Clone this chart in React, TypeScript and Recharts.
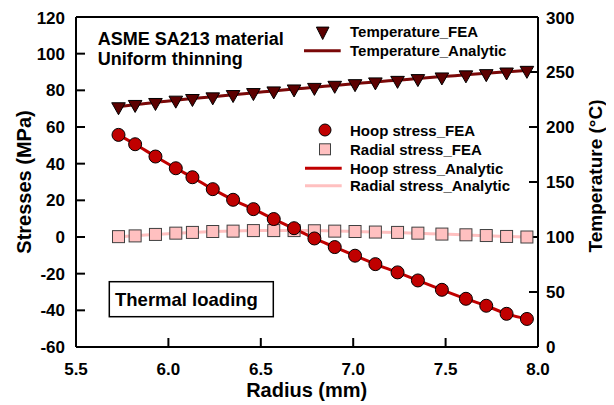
import { ComposedChart, Line, XAxis, YAxis, ReferenceLine } from "recharts";

const radius = [5.73, 5.82, 5.93, 6.04, 6.13, 6.24, 6.35, 6.46, 6.57, 6.68, 6.79, 6.9, 7.01, 7.12, 7.24, 7.35, 7.48, 7.61, 7.72, 7.83, 7.94];
const hoopFEA = [55.7, 50.6, 43.9, 37.5, 32.6, 26.1, 20.3, 15.2, 9.8, 4.8, -0.8, -5.5, -10.2, -14.8, -19.3, -23.7, -28.8, -33.7, -37.5, -41.9, -44.7];
const radialFEA = [0.2, 0.6, 1.4, 2.1, 2.5, 3.0, 3.2, 3.5, 3.5, 3.5, 3.4, 3.2, 3.0, 2.7, 2.5, 2.1, 1.6, 1.2, 0.8, 0.3, 0.0];
const temperatureFEA = [218.4, 220.5, 222.3, 224.4, 225.9, 227.4, 229.5, 231.3, 232.8, 234.6, 236.0, 237.9, 239.4, 241.0, 242.4, 244.0, 245.5, 247.4, 248.5, 250.0, 251.5];
const hoopAnalytic = [55.7, 50.6, 43.9, 37.5, 32.6, 26.1, 20.3, 15.2, 9.8, 4.6, -0.8, -5.5, -10.2, -14.8, -19.3, -23.7, -28.8, -33.7, -37.5, -41.9, -44.7];
const radialAnalytic = [0.2, 0.7, 1.4, 2.0, 2.5, 3.0, 3.3, 3.5, 3.6, 3.6, 3.5, 3.3, 3.0, 2.7, 2.4, 2.0, 1.6, 1.1, 0.7, 0.3, 0.0];
const temperatureAnalytic = [218.4, 220.4, 222.4, 224.3, 225.9, 227.6, 229.4, 231.1, 232.8, 234.5, 236.1, 237.8, 239.4, 241.0, 242.6, 244.1, 245.8, 247.4, 248.8, 250.2, 251.5];

const radiusTicks = [5.5, 6.0, 6.5, 7.0, 7.5, 8.0];
const stressTicks = [-60, -40, -20, 0, 20, 40, 60, 80, 100, 120];
const temperatureTicks = [0, 50, 100, 150, 200, 250, 300];

const rows = radius.map((r, i) => ({
  r,
  hoopFea: hoopFEA[i],
  radialFea: radialFEA[i],
  tempFea: temperatureFEA[i],
  hoopAna: hoopAnalytic[i],
  radialAna: radialAnalytic[i],
  tempAna: temperatureAnalytic[i],
}));

const FONT = '"Liberation Sans", Arial, sans-serif';
const HOOP = "#c00000";
const RADIAL = "#ffc0c0";
const TEMP_FILL = "#5c0000";
const TEMP_LINE = "#7a0808";

const tickStyle = { fill: "#000", fontSize: 17, fontWeight: 700, fontFamily: FONT };
const axisLineStyle = { stroke: "#000", strokeWidth: 2 };

const HoopDot = (p: any) => (
  <circle key={`h${p.index}`} cx={p.cx} cy={p.cy} r={6.5} fill={HOOP} stroke="#000" strokeWidth={1} />
);
const RadialDot = (p: any) => (
  <rect key={`r${p.index}`} x={p.cx - 6} y={p.cy - 6} width={12} height={12} fill={RADIAL} stroke="#404040" strokeWidth={1} />
);
const TempDot = (p: any) => (
  <polygon
    key={`t${p.index}`}
    points={`${p.cx - 6.8},${p.cy - 4} ${p.cx + 6.8},${p.cy - 4} ${p.cx},${p.cy + 8}`}
    fill={TEMP_FILL}
    stroke="#000"
    strokeWidth={1}
  />
);

export default function App() {
  return (
    <div style={{ position: "relative", width: 598, height: 397 }}>
      <ComposedChart width={598} height={397} data={rows} margin={{ top: 9, right: 0, bottom: 0, left: 0 }}>
        <XAxis
          dataKey="r"
          type="number"
          domain={[5.5, 8]}
          ticks={radiusTicks}
          tickFormatter={(v: number) => v.toFixed(1)}
          height={58}
          tickSize={-9}
          tickMargin={25}
          axisLine={axisLineStyle}
          tickLine={axisLineStyle}
          tick={tickStyle}
          allowDataOverflow
        />
        <YAxis
          yAxisId="s"
          domain={[-60, 120]}
          ticks={stressTicks}
          width={68}
          tickSize={-9}
          tickMargin={20}
          axisLine={axisLineStyle}
          tickLine={axisLineStyle}
          tick={tickStyle}
          allowDataOverflow
        />
        <YAxis
          yAxisId="t"
          orientation="right"
          domain={[0, 300]}
          ticks={temperatureTicks}
          width={68}
          tickSize={-9}
          tickMargin={17}
          axisLine={axisLineStyle}
          tickLine={axisLineStyle}
          tick={{ ...tickStyle, textAnchor: "start" }}
          allowDataOverflow
        />
        <ReferenceLine yAxisId="s" y={120} stroke="#000" strokeWidth={2} />
        <Line yAxisId="t" type="monotone" dataKey="tempAna" stroke={TEMP_LINE} strokeWidth={3} dot={false} activeDot={false} isAnimationActive={false} />
        <Line yAxisId="s" type="monotone" dataKey="radialAna" stroke={RADIAL} strokeWidth={3} dot={false} activeDot={false} isAnimationActive={false} />
        <Line yAxisId="s" dataKey="radialFea" stroke="none" dot={RadialDot} activeDot={false} isAnimationActive={false} />
        <Line yAxisId="s" type="monotone" dataKey="hoopAna" stroke={HOOP} strokeWidth={3} dot={false} activeDot={false} isAnimationActive={false} />
        <Line yAxisId="s" dataKey="hoopFea" stroke="none" dot={HoopDot} activeDot={false} isAnimationActive={false} />
        <Line yAxisId="t" dataKey="tempFea" stroke="none" dot={TempDot} activeDot={false} isAnimationActive={false} />
      </ComposedChart>
      <svg
        width={598}
        height={397}
        style={{ position: "absolute", left: 0, top: 0, pointerEvents: "none" }}
        fontFamily={FONT}
        fontWeight={700}
      >
        {/* axis titles */}
        <text x={298.7} y={388.7} fontSize={20} textAnchor="middle">Radius (mm)</text>
        <text x={15.5} y={174} fontSize={20} textAnchor="middle" dominantBaseline="central" transform="rotate(-90 15.5 174)">
          Stresses (MPa)
        </text>
        <text x={587} y={168} fontSize={19} textAnchor="middle" dominantBaseline="central" transform="rotate(-90 587 168)">
          Temperature (°C)
        </text>

        {/* annotations */}
        <text x={89.7} y={36.5} fontSize={18}>ASME SA213 material</text>
        <text x={89.7} y={56.5} fontSize={18}>Uniform thinning</text>
        <rect x={101.3} y={273.7} width={164} height={35} fill="#fff" stroke="#000" strokeWidth={1.5} />
        <text x={107} y={298} fontSize={18.5}>Thermal loading</text>

        {/* temperature legend */}
        <polygon points="308.4,19.1 321,19.1 314.7,31.5" fill={TEMP_FILL} stroke="#000" strokeWidth={1} />
        <text x={342} y={29.3} fontSize={15}>Temperature_FEA</text>
        <line x1={296} y1={42.7} x2={332.7} y2={42.7} stroke={TEMP_LINE} strokeWidth={3} />
        <text x={342} y={47.5} fontSize={15}>Temperature_Analytic</text>

        {/* stress legend */}
        <circle cx={317} cy={122} r={6} fill={HOOP} stroke="#000" strokeWidth={1} />
        <text x={342} y={127.7} fontSize={15}>Hoop stress_FEA</text>
        <rect x={311.5} y={135.8} width={11} height={11} fill={RADIAL} stroke="#404040" strokeWidth={1} />
        <text x={342} y={147} fontSize={15}>Radial stress_FEA</text>
        <line x1={297} y1={160.3} x2={333.7} y2={160.3} stroke={HOOP} strokeWidth={3} />
        <text x={342} y={166} fontSize={15}>Hoop stress_Analytic</text>
        <line x1={297} y1={177.7} x2={333.7} y2={177.7} stroke={RADIAL} strokeWidth={3} />
        <text x={342} y={183} fontSize={15}>Radial stress_Analytic</text>
      </svg>
    </div>
  );
}
